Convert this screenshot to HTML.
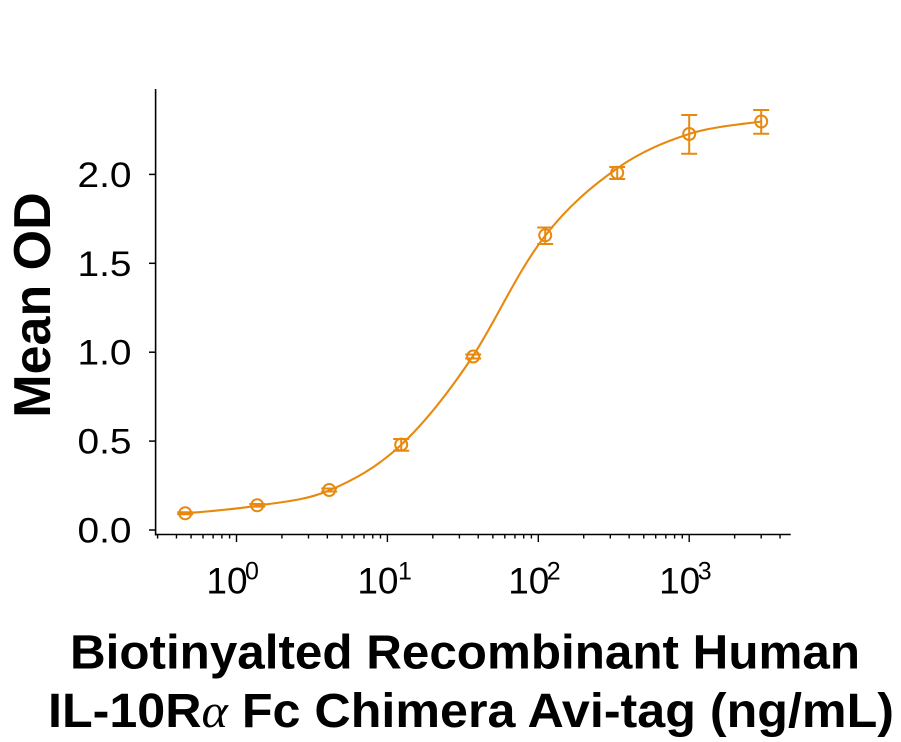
<!DOCTYPE html>
<html>
<head>
<meta charset="utf-8">
<style>
  html, body { margin: 0; padding: 0; background: #ffffff; }
  body { width: 901px; height: 742px; overflow: hidden; }
  svg { display: block; }
  text { font-family: "Liberation Sans", Arial, sans-serif; fill: #000; }
</style>
</head>
<body>
<svg width="901" height="742" viewBox="0 0 901 742" xmlns="http://www.w3.org/2000/svg">
  <rect x="0" y="0" width="901" height="742" fill="#ffffff"/>

  <!-- Y axis -->
  <line x1="155.6" y1="89" x2="155.6" y2="535.5" stroke="#000" stroke-width="1.6"/>
  <g stroke="#000" stroke-width="1.5">
    <line x1="149" y1="530" x2="155.6" y2="530"/>
    <line x1="149" y1="441.1" x2="155.6" y2="441.1"/>
    <line x1="149" y1="352.2" x2="155.6" y2="352.2"/>
    <line x1="149" y1="263.3" x2="155.6" y2="263.3"/>
    <line x1="149" y1="174.4" x2="155.6" y2="174.4"/>
  </g>
  <g font-size="35" text-anchor="end">
    <text x="131.5" y="542.5" textLength="54" lengthAdjust="spacingAndGlyphs">0.0</text>
    <text x="131.5" y="453.6" textLength="54" lengthAdjust="spacingAndGlyphs">0.5</text>
    <text x="131.5" y="364.7" textLength="54" lengthAdjust="spacingAndGlyphs">1.0</text>
    <text x="131.5" y="275.8" textLength="54" lengthAdjust="spacingAndGlyphs">1.5</text>
    <text x="131.5" y="186.9" textLength="54" lengthAdjust="spacingAndGlyphs">2.0</text>
  </g>

  <!-- Y title -->
  <text transform="translate(50,305) rotate(-90)" font-size="52" font-weight="bold" text-anchor="middle">Mean OD</text>

  <!-- X axis -->
  <line x1="155" y1="534.5" x2="790.7" y2="534.5" stroke="#000" stroke-width="1.6"/>
  <g stroke="#000" stroke-width="1.4">
    <line x1="236.5" y1="534.5" x2="236.5" y2="542"/>
    <line x1="387.4" y1="534.5" x2="387.4" y2="542"/>
    <line x1="538.3" y1="534.5" x2="538.3" y2="542"/>
    <line x1="689.2" y1="534.5" x2="689.2" y2="542"/>

    <line x1="157.6" y1="534.5" x2="157.6" y2="538.5"/>
    <line x1="176.45" y1="534.5" x2="176.45" y2="538.5"/>
    <line x1="191.07" y1="534.5" x2="191.07" y2="538.5"/>
    <line x1="203.02" y1="534.5" x2="203.02" y2="538.5"/>
    <line x1="213.12" y1="534.5" x2="213.12" y2="538.5"/>
    <line x1="221.88" y1="534.5" x2="221.88" y2="538.5"/>
    <line x1="229.59" y1="534.5" x2="229.59" y2="538.5"/>

    <line x1="281.93" y1="534.5" x2="281.93" y2="538.5"/>
    <line x1="308.5" y1="534.5" x2="308.5" y2="538.5"/>
    <line x1="327.35" y1="534.5" x2="327.35" y2="538.5"/>
    <line x1="341.97" y1="534.5" x2="341.97" y2="538.5"/>
    <line x1="353.92" y1="534.5" x2="353.92" y2="538.5"/>
    <line x1="364.02" y1="534.5" x2="364.02" y2="538.5"/>
    <line x1="372.78" y1="534.5" x2="372.78" y2="538.5"/>
    <line x1="380.49" y1="534.5" x2="380.49" y2="538.5"/>

    <line x1="432.83" y1="534.5" x2="432.83" y2="538.5"/>
    <line x1="459.4" y1="534.5" x2="459.4" y2="538.5"/>
    <line x1="478.25" y1="534.5" x2="478.25" y2="538.5"/>
    <line x1="492.87" y1="534.5" x2="492.87" y2="538.5"/>
    <line x1="504.82" y1="534.5" x2="504.82" y2="538.5"/>
    <line x1="514.92" y1="534.5" x2="514.92" y2="538.5"/>
    <line x1="523.68" y1="534.5" x2="523.68" y2="538.5"/>
    <line x1="531.39" y1="534.5" x2="531.39" y2="538.5"/>

    <line x1="583.73" y1="534.5" x2="583.73" y2="538.5"/>
    <line x1="610.3" y1="534.5" x2="610.3" y2="538.5"/>
    <line x1="629.15" y1="534.5" x2="629.15" y2="538.5"/>
    <line x1="643.77" y1="534.5" x2="643.77" y2="538.5"/>
    <line x1="655.72" y1="534.5" x2="655.72" y2="538.5"/>
    <line x1="665.82" y1="534.5" x2="665.82" y2="538.5"/>
    <line x1="674.58" y1="534.5" x2="674.58" y2="538.5"/>
    <line x1="682.29" y1="534.5" x2="682.29" y2="538.5"/>

    <line x1="734.63" y1="534.5" x2="734.63" y2="538.5"/>
    <line x1="761.2" y1="534.5" x2="761.2" y2="538.5"/>
    <line x1="780.05" y1="534.5" x2="780.05" y2="538.5"/>
  </g>

  <!-- X tick labels -->
  <g font-size="37" text-anchor="middle">
    <text x="227" y="593.5">10</text>
    <text x="377.9" y="593.5">10</text>
    <text x="528.8" y="593.5">10</text>
    <text x="679.7" y="593.5">10</text>
  </g>
  <g font-size="25">
    <text x="245" y="579.5">0</text>
    <text x="398" y="579.5">1</text>
    <text x="546.8" y="579.5">2</text>
    <text x="697.7" y="579.5">3</text>
  </g>

  <!-- X title -->
  <text x="465" y="668.5" font-size="48" font-weight="bold" text-anchor="middle" textLength="790" lengthAdjust="spacingAndGlyphs">Biotinyalted Recombinant Human</text>
  <text x="471" y="727" font-size="48" font-weight="bold" text-anchor="middle" textLength="846" lengthAdjust="spacingAndGlyphs">IL-10R<tspan font-family="Liberation Serif, serif" font-weight="normal" font-style="italic">α</tspan> Fc Chimera Avi-tag (ng/mL)</text>

  <!-- Fit curve -->
  <path d="M178,514 L185,513.5 C197,512.22 233,509.63 257,505.8 C281,501.97 305,500.63 329,490.5 C353,480.37 377,467.42 401,445 C425,422.58 449,392 473,356 C497,319 517,272 545,236 C569,205 593,185.5 617,168.5 C641,151.5 665,141.83 689,134 C713,126.17 749,123.58 761,121.5"
        fill="none" stroke="#E8890F" stroke-width="2.1"/>

  <!-- Error bars -->
  <g stroke="#E8890F" stroke-width="2" fill="none">
    <line x1="185.2" y1="512.3" x2="185.2" y2="514.3"/>
    <line x1="177.2" y1="512.3" x2="193.2" y2="512.3"/>
    <line x1="177.2" y1="514.3" x2="193.2" y2="514.3"/>

    <line x1="257.2" y1="504" x2="257.2" y2="506.6"/>
    <line x1="249.2" y1="504" x2="265.2" y2="504"/>
    <line x1="249.2" y1="506.6" x2="265.2" y2="506.6"/>

    <line x1="329.2" y1="488.5" x2="329.2" y2="491.5"/>
    <line x1="321.2" y1="488.5" x2="337.2" y2="488.5"/>
    <line x1="321.2" y1="491.5" x2="337.2" y2="491.5"/>

    <line x1="401.2" y1="439" x2="401.2" y2="450.7"/>
    <line x1="393.2" y1="439" x2="409.2" y2="439"/>
    <line x1="393.2" y1="450.7" x2="409.2" y2="450.7"/>

    <line x1="473.2" y1="354.5" x2="473.2" y2="358.5"/>
    <line x1="465.2" y1="354.5" x2="481.2" y2="354.5"/>
    <line x1="465.2" y1="358.5" x2="481.2" y2="358.5"/>

    <line x1="545.2" y1="227.5" x2="545.2" y2="244"/>
    <line x1="537.2" y1="227.5" x2="553.2" y2="227.5"/>
    <line x1="537.2" y1="244" x2="553.2" y2="244"/>

    <line x1="617.2" y1="167" x2="617.2" y2="179"/>
    <line x1="609.2" y1="167" x2="625.2" y2="167"/>
    <line x1="609.2" y1="179" x2="625.2" y2="179"/>

    <line x1="689.2" y1="115" x2="689.2" y2="153.7"/>
    <line x1="681.2" y1="115" x2="697.2" y2="115"/>
    <line x1="681.2" y1="153.7" x2="697.2" y2="153.7"/>

    <line x1="761.2" y1="110" x2="761.2" y2="133.7"/>
    <line x1="753.2" y1="110" x2="769.2" y2="110"/>
    <line x1="753.2" y1="133.7" x2="769.2" y2="133.7"/>
  </g>

  <!-- Data points -->
  <g stroke="#E8890F" stroke-width="2" fill="none">
    <circle cx="185.2" cy="513.3" r="6"/>
    <circle cx="257.2" cy="505.3" r="6"/>
    <circle cx="329.2" cy="490" r="6"/>
    <circle cx="401.2" cy="444.6" r="6"/>
    <circle cx="473.2" cy="356.5" r="6"/>
    <circle cx="545.2" cy="235.3" r="6"/>
    <circle cx="617.2" cy="172.7" r="6"/>
    <circle cx="689.2" cy="134" r="6"/>
    <circle cx="761.2" cy="121.5" r="6"/>
  </g>
</svg>
</body>
</html>
